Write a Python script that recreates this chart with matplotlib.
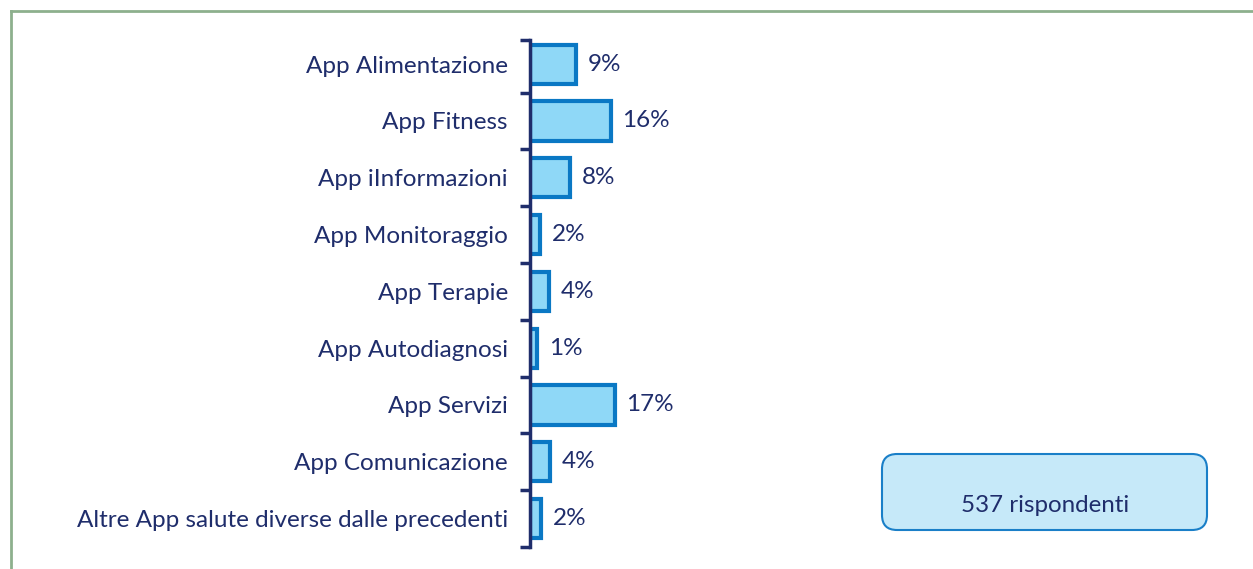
import matplotlib.pyplot as plt
from matplotlib.patches import FancyBboxPatch
from matplotlib.lines import Line2D

categories = [
    "App Alimentazione",
    "App Fitness",
    "App iInformazioni",
    "App Monitoraggio",
    "App Terapie",
    "App Autodiagnosi",
    "App Servizi",
    "App Comunicazione",
    "Altre App salute diverse dalle precedenti",
]
values = [9.1, 16.1, 7.9, 1.9, 3.8, 1.4, 16.9, 3.9, 2.1]
value_labels = ["9%", "16%", "8%", "2%", "4%", "1%", "17%", "4%", "2%"]
respondents_text = "537 rispondenti"

navy = "#1f2d6b"
fill = "#8fd8f7"
edge = "#0a78c4"

plt.rcParams['font.family'] = ['Lato', 'DejaVu Sans']

fig = plt.figure(figsize=(12.53, 5.69), dpi=100)
ax = fig.add_axes([0.423, 0.0387, 0.5, 0.891])

pos = list(range(len(categories)))
ax.barh(pos, values, height=0.69, color=fill, edgecolor=edge, linewidth=3)
for p, v, lab in zip(pos, values, value_labels):
    ax.text(v + 2.4, p, lab, va="center", ha="left", fontsize=17.5, color=navy)

top = len(categories) - 0.5 - 507 / 56.8
ax.set_xlim(0, 125.3)
ax.set_ylim(len(categories) - 0.5, top)
ax.set_xticks([])

# boundary ticks (major), category labels (minor)
ax.set_yticks([top] + [i + 0.5 for i in range(len(categories))])
ax.set_yticklabels([])
ax.set_yticks(pos, minor=True)
ax.set_yticklabels(categories, minor=True)
ax.tick_params(axis="y", which="major", length=7, width=2.5, color=navy, direction="out")
ax.tick_params(axis="y", which="minor", length=0, pad=16, labelsize=17.5, labelcolor=navy)

for s in ["top", "right", "bottom"]:
    ax.spines[s].set_visible(False)
ax.spines["left"].set_color(navy)
ax.spines["left"].set_linewidth(2.5)

# respondents box
box = FancyBboxPatch((882 / 1253, 1 - 530 / 569), 325 / 1253, 76 / 569,
                     boxstyle="round,pad=0,rounding_size=0.012",
                     transform=fig.transFigure, facecolor="#c6e9f9",
                     edgecolor="#1a7fc8", linewidth=1.5, mutation_aspect=1253 / 569)
fig.patches.append(box)
fig.text(1045 / 1253, 1 - 506 / 569, respondents_text, ha="center", va="center",
         fontsize=17.4, color=navy)

# frame lines (top and left)
frame = "#8db08d"
fig.add_artist(Line2D([11 / 1253, 1], [1 - 11 / 569, 1 - 11 / 569],
                      transform=fig.transFigure, color=frame, linewidth=2))
fig.add_artist(Line2D([11 / 1253, 11 / 1253], [0, 1 - 11 / 569],
                      transform=fig.transFigure, color=frame, linewidth=2))

fig.savefig("out.png", dpi=100)
